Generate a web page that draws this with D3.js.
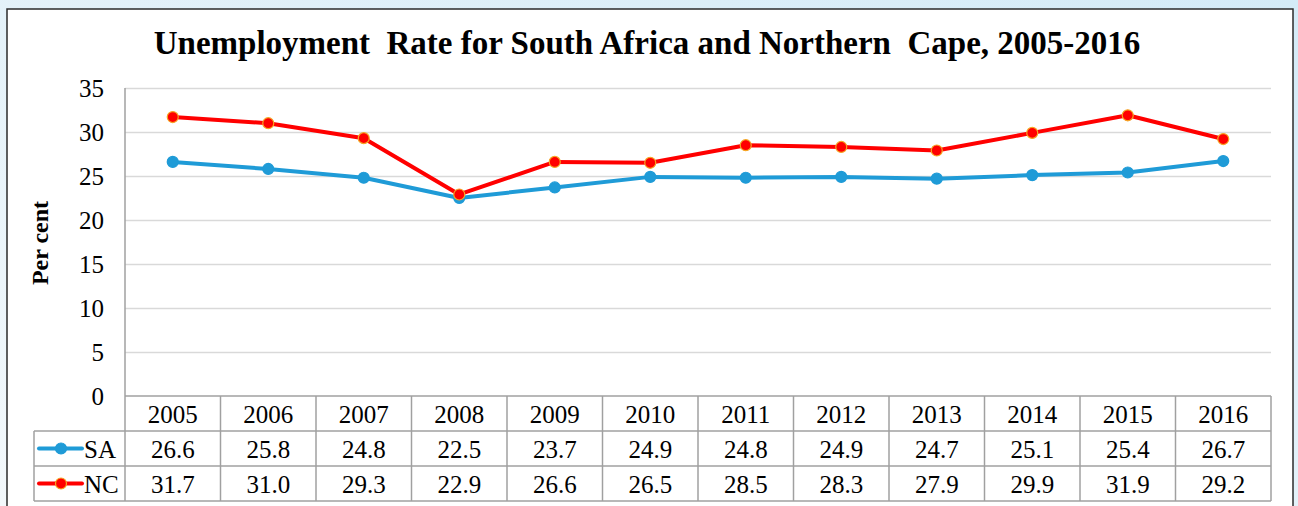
<!DOCTYPE html>
<html>
<head>
<meta charset="utf-8">
<script src="https://cdn.jsdelivr.net/npm/d3@7"></script>
<style>
  body { margin: 0; background: #fff; }
  svg { display: block; }
  text { font-family: "Liberation Serif", "Times New Roman", serif; fill: #000; }
</style>
</head>
<body>
<svg id="chart" width="1298" height="506"></svg>
<script>
// data
var years = ["2005","2006","2007","2008","2009","2010","2011","2012","2013","2014","2015","2016"]
var saValues = [26.6, 25.8, 24.8, 22.5, 23.7, 24.9, 24.8, 24.9, 24.7, 25.1, 25.4, 26.7]
var ncValues = [31.7, 31.0, 29.3, 22.9, 26.6, 26.5, 28.5, 28.3, 27.9, 29.9, 31.9, 29.2]
var yTicks = [0, 5, 10, 15, 20, 25, 30, 35]
var series = [
  {name: "SA", values: saValues, color: "#1f9bd7", fill: "#1f9bd7", ring: "#1f9bd7"},
  {name: "NC", values: ncValues, color: "#ff0000", fill: "#ff0000", ring: "#f5a623"}
]

var svg = d3.select("#chart")

// page background + chart frame
var defs = svg.append("defs")
var grad = defs.append("linearGradient").attr("id", "bg").attr("x1", 0).attr("x2", 1).attr("y1", 1).attr("y2", 0)
grad.append("stop").attr("offset", "0%").attr("stop-color", "#f3f8fb")
grad.append("stop").attr("offset", "100%").attr("stop-color", "#d4ebf7")
svg.append("rect").attr("width", 1298).attr("height", 506).attr("fill", "url(#bg)")
svg.append("rect")
  .attr("x", 7).attr("y", 9).attr("width", 1286).attr("height", 520)
  .attr("fill", "#fff").attr("stroke", "#2b2b2b").attr("stroke-width", 1.5)

var plotL = 125, plotR = 1271, plotT = 88, zero = 396
var rowH = 35

var x = d3.scaleBand().domain(years).range([plotL, plotR])
var y = d3.scaleLinear().domain([0, 35]).range([zero, plotT])

// title
svg.append("text")
  .attr("x", 647).attr("y", 54)
  .attr("text-anchor", "middle")
  .style("font-size", "33px").style("font-weight", "bold")
  .style("white-space", "pre")
  .text("Unemployment  Rate for South Africa and Northern  Cape, 2005-2016")

// grid lines
svg.append("g")
  .attr("transform", "translate(" + plotL + ",0)")
  .call(d3.axisLeft(y).tickValues(yTicks.slice(1)).tickSize(-(plotR - plotL)).tickFormat(""))
  .call(g => g.select(".domain").remove())
  .call(g => g.selectAll("line").attr("stroke", "#d9d9d9").attr("stroke-width", 1.5))

// y tick labels
svg.append("g")
  .attr("transform", "translate(104,0)")
  .call(d3.axisLeft(y).tickValues(yTicks).tickSize(0).tickPadding(0))
  .call(g => g.select(".domain").remove())
  .call(g => g.selectAll("text")
    .style("font-size", "25px")
    .style("font-family", "'Liberation Serif', serif")
    .attr("dy", "0.32em"))

svg.append("text")
  .attr("transform", "translate(48,243) rotate(-90)")
  .attr("text-anchor", "middle")
  .style("font-size", "24px").style("font-weight", "bold")
  .text("Per cent")

// data table lines
var tbl = svg.append("g").attr("stroke", "#a0a0a0").attr("stroke-width", 1.5)
tbl.append("line").attr("x1", plotL).attr("x2", plotL).attr("y1", plotT).attr("y2", zero + 3 * rowH)
tbl.append("line").attr("x1", plotL).attr("x2", plotR).attr("y1", zero).attr("y2", zero)
tbl.append("line").attr("x1", 34).attr("x2", plotR).attr("y1", zero + rowH).attr("y2", zero + rowH)
tbl.append("line").attr("x1", 34).attr("x2", plotR).attr("y1", zero + 2 * rowH).attr("y2", zero + 2 * rowH)
tbl.append("line").attr("x1", 34).attr("x2", plotR).attr("y1", zero + 3 * rowH).attr("y2", zero + 3 * rowH)
tbl.append("line").attr("x1", 34).attr("x2", 34).attr("y1", zero + rowH).attr("y2", zero + 3 * rowH)
tbl.selectAll(".sep").data(years).enter().append("line")
  .attr("x1", d => x(d) + x.bandwidth()).attr("x2", d => x(d) + x.bandwidth())
  .attr("y1", zero).attr("y2", zero + 3 * rowH)

// header row
svg.selectAll(".yr").data(years).enter().append("text")
  .attr("x", d => x(d) + x.bandwidth() / 2)
  .attr("y", zero + 27)
  .attr("text-anchor", "middle")
  .style("font-size", "25px")
  .text(d => d)

// lines and markers
var line = d3.line()
  .x((d, i) => x(years[i]) + x.bandwidth() / 2)
  .y(d => y(d))

series.forEach(function(s, k) {
  svg.append("path")
    .datum(s.values)
    .attr("d", line)
    .attr("fill", "none")
    .attr("stroke", s.color)
    .attr("stroke-width", 4)
    .attr("stroke-linejoin", "round")
  svg.selectAll(".pt" + k).data(s.values).enter().append("circle")
    .attr("cx", (d, i) => x(years[i]) + x.bandwidth() / 2)
    .attr("cy", d => y(d))
    .attr("r", 5.5)
    .attr("fill", s.fill)
    .attr("stroke", s.ring)
    .attr("stroke-width", 1.2)

  // table row
  var ry = zero + rowH * (k + 1)
  svg.append("line")
    .attr("x1", 39).attr("x2", 82).attr("y1", ry + rowH / 2).attr("y2", ry + rowH / 2)
    .attr("stroke", s.color).attr("stroke-width", 4).attr("stroke-linecap", "round")
  svg.append("circle")
    .attr("cx", 61).attr("cy", ry + rowH / 2).attr("r", 5.5)
    .attr("fill", s.fill).attr("stroke", s.ring).attr("stroke-width", 1.2)
  svg.append("text")
    .attr("x", 84).attr("y", ry + 27)
    .style("font-size", "25px")
    .text(s.name)
  svg.selectAll(".val" + k).data(s.values).enter().append("text")
    .attr("x", (d, i) => x(years[i]) + x.bandwidth() / 2)
    .attr("y", ry + 27)
    .attr("text-anchor", "middle")
    .style("font-size", "25px")
    .text(d => d.toFixed(1))
})
</script>
</body>
</html>
